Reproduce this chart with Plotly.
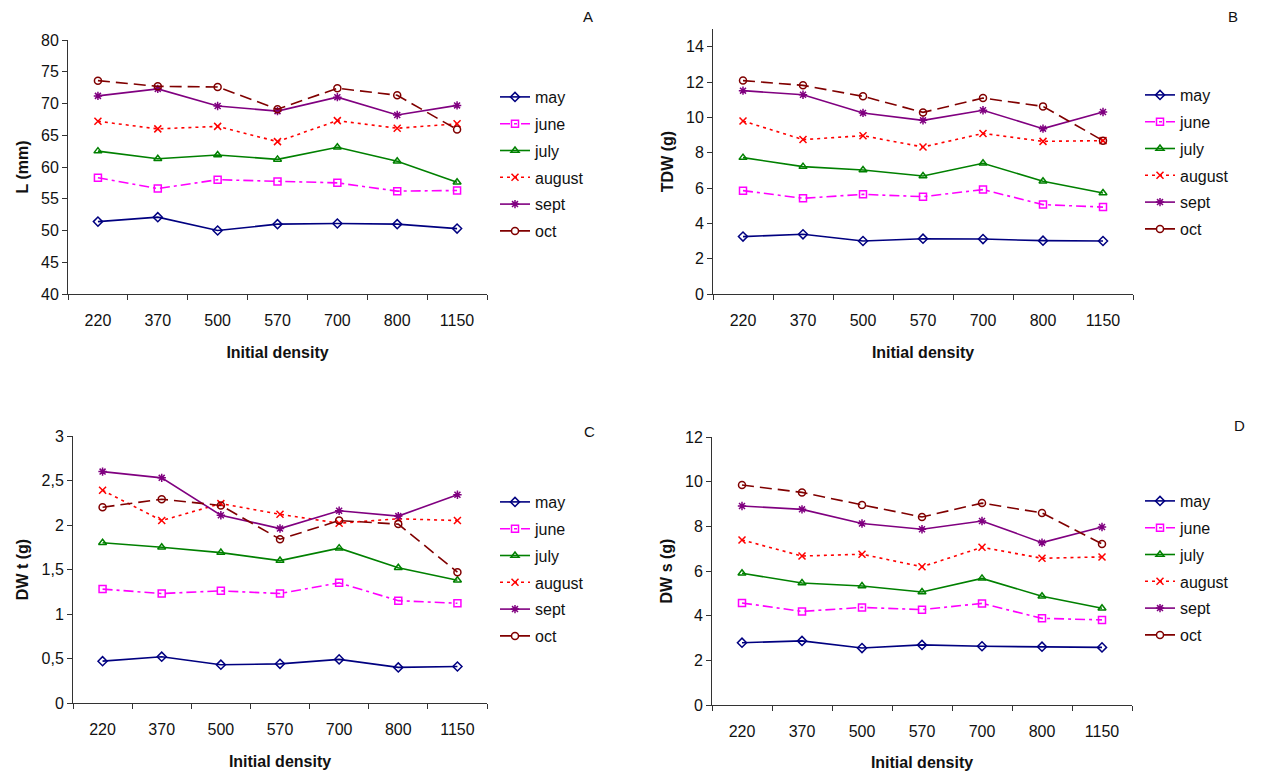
import plotly.graph_objects as go

categories = ["220", "370", "500", "570", "700", "800", "1150"]
months = ["may", "june", "july", "august", "sept", "oct"]

L_may = [51.4, 52.1, 50.0, 51.0, 51.1, 51.0, 50.3]
L_june = [58.3, 56.6, 58.0, 57.7, 57.5, 56.2, 56.3]
L_july = [62.5, 61.3, 61.9, 61.2, 63.1, 60.9, 57.6]
L_august = [67.2, 66.0, 66.4, 64.0, 67.3, 66.1, 66.8]
L_sept = [71.2, 72.3, 69.6, 68.8, 71.0, 68.2, 69.7]
L_oct = [73.6, 72.7, 72.6, 69.1, 72.4, 71.3, 65.9]

TDW_may = [3.25, 3.38, 3.0, 3.13, 3.11, 3.02, 3.0]
TDW_june = [5.85, 5.42, 5.64, 5.51, 5.91, 5.06, 4.92]
TDW_july = [7.72, 7.21, 7.02, 6.68, 7.40, 6.38, 5.72]
TDW_august = [9.79, 8.74, 8.96, 8.32, 9.09, 8.64, 8.68]
TDW_sept = [11.51, 11.28, 10.25, 9.83, 10.40, 9.36, 10.30]
TDW_oct = [12.08, 11.81, 11.19, 10.28, 11.09, 10.62, 8.68]

DWt_may = [0.47, 0.52, 0.43, 0.44, 0.49, 0.40, 0.41]
DWt_june = [1.28, 1.23, 1.26, 1.23, 1.35, 1.15, 1.12]
DWt_july = [1.80, 1.75, 1.69, 1.60, 1.74, 1.52, 1.38]
DWt_august = [2.39, 2.05, 2.24, 2.12, 2.02, 2.07, 2.05]
DWt_sept = [2.60, 2.53, 2.11, 1.96, 2.16, 2.10, 2.34]
DWt_oct = [2.20, 2.29, 2.22, 1.84, 2.05, 2.01, 1.47]

DWs_may = [2.79, 2.87, 2.55, 2.69, 2.63, 2.61, 2.58]
DWs_june = [4.57, 4.19, 4.37, 4.27, 4.55, 3.88, 3.81]
DWs_july = [5.90, 5.46, 5.33, 5.06, 5.67, 4.87, 4.33]
DWs_august = [7.39, 6.67, 6.75, 6.19, 7.06, 6.57, 6.63]
DWs_sept = [8.91, 8.76, 8.13, 7.87, 8.24, 7.27, 7.97]
DWs_oct = [9.85, 9.52, 8.96, 8.42, 9.04, 8.60, 7.21]

panel_A = [L_may, L_june, L_july, L_august, L_sept, L_oct]
panel_B = [TDW_may, TDW_june, TDW_july, TDW_august, TDW_sept, TDW_oct]
panel_C = [DWt_may, DWt_june, DWt_july, DWt_august, DWt_sept, DWt_oct]
panel_D = [DWs_may, DWs_june, DWs_july, DWs_august, DWs_sept, DWs_oct]

yticks_A = [40, 45, 50, 55, 60, 65, 70, 75, 80]
yticks_B = [0, 2, 4, 6, 8, 10, 12, 14]
yticks_C = [0, 0.5, 1, 1.5, 2, 2.5, 3]
yticktext_C = ["0", "0,5", "1", "1,5", "2", "2,5", "3"]
yticks_D = [0, 2, 4, 6, 8, 10, 12]

styles = {
    "may": dict(color="#000080", dash="solid", symbol="diamond-open"),
    "june": dict(color="#FF00FF", dash="10px,4px,3px,4px", symbol="square-open"),
    "july": dict(color="#008000", dash="solid", symbol="triangle-up-open"),
    "august": dict(color="#FF0000", dash="3px,4px", symbol="x-thin-open"),
    "sept": dict(color="#800080", dash="solid", symbol="asterisk-open"),
    "oct": dict(color="#800000", dash="12px,6px", symbol="circle-open"),
}

W, H = 1262, 771
FONT = "Arial, Liberation Sans, sans-serif"

panels = [
    dict(data=panel_A, ytitle="L (mm)", yrange=[40, 80], yticks=yticks_A, ytext=None,
         px=(68, 487), py=(40, 294), legend=(495, 80), letter="A", lpos=(588, 16)),
    dict(data=panel_B, ytitle="TDW (g)", yrange=[0, 15], yticks=yticks_B, ytext=None,
         px=(713, 1133), py=(29, 294), legend=(1140, 78), letter="B", lpos=(1233, 16)),
    dict(data=panel_C, ytitle="DW t (g)", yrange=[0, 3], yticks=yticks_C, ytext=yticktext_C,
         px=(73, 487), py=(436, 703), legend=(495, 485), letter="C", lpos=(589, 431)),
    dict(data=panel_D, ytitle="DW s (g)", yrange=[0, 12], yticks=yticks_D, ytext=None,
         px=(712, 1132), py=(437, 705), legend=(1140, 484), letter="D", lpos=(1239, 425)),
]

fig = go.Figure()
annotations = []
for i, p in enumerate(panels):
    n = "" if i == 0 else str(i + 1)
    lg = "legend" + n
    for m, vals in zip(months, p["data"]):
        s = styles[m]
        fig.add_trace(go.Scatter(
            x=categories, y=vals, name=m, mode="lines+markers",
            xaxis="x" + n, yaxis="y" + n, legend=lg,
            legendgroup=f"{i}-{m}",
            line=dict(color=s["color"], dash=s["dash"], width=1.6),
            marker=dict(symbol=s["symbol"], size=7, color=s["color"],
                        line=dict(color=s["color"], width=1.5)),
        ))
    x0, x1 = p["px"]
    y0, y1 = p["py"]
    axcommon = dict(showline=True, linecolor="#333333", linewidth=1, showgrid=False,
                    zeroline=False, ticks="outside", ticklen=5, tickcolor="#333333",
                    automargin=False,
                    tickfont=dict(family=FONT, size=16, color="#111111"))
    fig.update_layout({
        "xaxis" + n: dict(axcommon, domain=[x0 / W, x1 / W], anchor="y" + n,
                          type="category", tickson="boundaries", range=[-0.5, 6.5],
                          ticklabelstandoff=12,
                          title=dict(text="<b>Initial density</b>", standoff=18,
                                     font=dict(family=FONT, size=16, color="#111111"))),
        "yaxis" + n: dict(axcommon, domain=[1 - y1 / H, 1 - y0 / H], anchor="x" + n,
                          range=p["yrange"], tickvals=p["yticks"],
                          ticktext=p["ytext"] if p["ytext"] else [str(v) for v in p["yticks"]],
                          title=dict(text="<b>" + p["ytitle"] + "</b>", standoff=8,
                                     font=dict(family=FONT, size=16, color="#111111"))),
        lg: dict(x=p["legend"][0] / W, y=1 - p["legend"][1] / H, xanchor="left", yanchor="top",
                 bgcolor="rgba(0,0,0,0)", tracegroupgap=3,
                 font=dict(family=FONT, size=16, color="#111111")),
    })
    annotations.append(dict(text=p["letter"], x=p["lpos"][0] / W, y=1 - p["lpos"][1] / H,
                            xref="paper", yref="paper", showarrow=False,
                            xanchor="center", yanchor="middle",
                            font=dict(family=FONT, size=15, color="#111111")))

fig.update_layout(width=W, height=H, margin=dict(l=0, r=0, t=0, b=0),
                  paper_bgcolor="white", plot_bgcolor="white",
                  annotations=annotations, showlegend=True,
                  font=dict(family=FONT, size=16, color="#111111"))
fig.write_html("out.html")
